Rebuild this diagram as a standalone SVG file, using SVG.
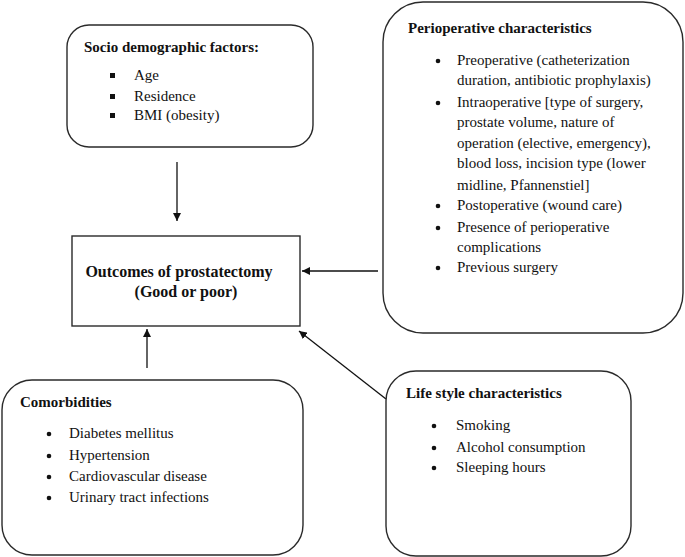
<svg xmlns="http://www.w3.org/2000/svg" width="685" height="557" viewBox="0 0 685 557">
<style>
.box{fill:#fff;stroke:#2a2a2a;stroke-width:1.4}
.t{font-family:"Liberation Serif","Times New Roman",serif;font-size:15px;fill:#111}
.b{font-weight:bold}
.conn{stroke:#111;stroke-width:1.3;fill:none;marker-end:url(#ah)}
</style>
<defs>
<marker id="ah" viewBox="0 0 10 10" refX="10" refY="5" markerWidth="8" markerHeight="8" markerUnits="userSpaceOnUse" orient="auto">
<path d="M0,0 L10,5 L0,10 z" fill="#111"/>
</marker>
</defs>
<rect width="685" height="557" fill="#fff"/>
<g id="connectors">
<line class="conn" x1="177" y1="162" x2="177" y2="221"/>
<line class="conn" x1="378" y1="271" x2="302" y2="271"/>
<line class="conn" x1="147" y1="368" x2="147" y2="329"/>
<line class="conn" x1="386" y1="399" x2="299" y2="331"/>
</g>
<g id="socio">
<rect class="box" x="67" y="25" width="246" height="122" rx="22"/>
<text class="t b" x="84" y="52">Socio demographic factors:</text>
<rect x="110" y="73" width="5" height="5" fill="#111"/>
<rect x="110" y="94" width="5" height="5" fill="#111"/>
<rect x="110" y="113" width="5" height="5" fill="#111"/>
<text class="t" x="134" y="80">Age</text>
<text class="t" x="134" y="101">Residence</text>
<text class="t" x="134" y="120">BMI (obesity)</text>
</g>
<g id="periop">
<rect class="box" x="383" y="2" width="300" height="331" rx="40"/>
<text class="t b" x="408" y="33">Perioperative characteristics</text>
<g fill="#111">
<circle cx="438" cy="61" r="2.3"/>
<circle cx="438" cy="103" r="2.3"/>
<circle cx="438" cy="206" r="2.3"/>
<circle cx="438" cy="228" r="2.3"/>
<circle cx="438" cy="268" r="2.3"/>
</g>
<text class="t" x="457" y="65">Preoperative (catheterization</text>
<text class="t" x="457" y="85">duration, antibiotic prophylaxis)</text>
<text class="t" x="457" y="107">Intraoperative [type of surgery,</text>
<text class="t" x="457" y="127">prostate volume, nature of</text>
<text class="t" x="457" y="148">operation (elective, emergency),</text>
<text class="t" x="457" y="168">blood loss, incision type (lower</text>
<text class="t" x="457" y="190">midline, Pfannenstiel]</text>
<text class="t" x="457" y="210">Postoperative (wound care)</text>
<text class="t" x="457" y="232">Presence of perioperative</text>
<text class="t" x="457" y="252">complications</text>
<text class="t" x="457" y="272">Previous surgery</text>
</g>
<g id="outcome">
<rect class="box" x="72" y="236" width="228" height="90"/>
<text class="t b" x="179" y="277" text-anchor="middle" style="font-size:16px">Outcomes of prostatectomy</text>
<text class="t b" x="186" y="297" text-anchor="middle" style="font-size:16px">(Good or poor)</text>
</g>
<g id="comorb">
<rect class="box" x="2" y="380" width="301" height="175" rx="30"/>
<text class="t b" x="20" y="407">Comorbidities</text>
<g fill="#111">
<circle cx="49" cy="434" r="2.3"/>
<circle cx="49" cy="456" r="2.3"/>
<circle cx="49" cy="477" r="2.3"/>
<circle cx="49" cy="498" r="2.3"/>
</g>
<text class="t" x="69" y="438">Diabetes mellitus</text>
<text class="t" x="69" y="460">Hypertension</text>
<text class="t" x="69" y="481">Cardiovascular disease</text>
<text class="t" x="69" y="502">Urinary tract infections</text>
</g>
<g id="lifestyle">
<rect class="box" x="386" y="371" width="245" height="185" rx="30"/>
<text class="t b" x="406" y="398">Life style characteristics</text>
<g fill="#111">
<circle cx="434" cy="426" r="2.3"/>
<circle cx="434" cy="448" r="2.3"/>
<circle cx="434" cy="468" r="2.3"/>
</g>
<text class="t" x="456" y="430">Smoking</text>
<text class="t" x="456" y="452">Alcohol consumption</text>
<text class="t" x="456" y="472">Sleeping hours</text>
</g>
</svg>
